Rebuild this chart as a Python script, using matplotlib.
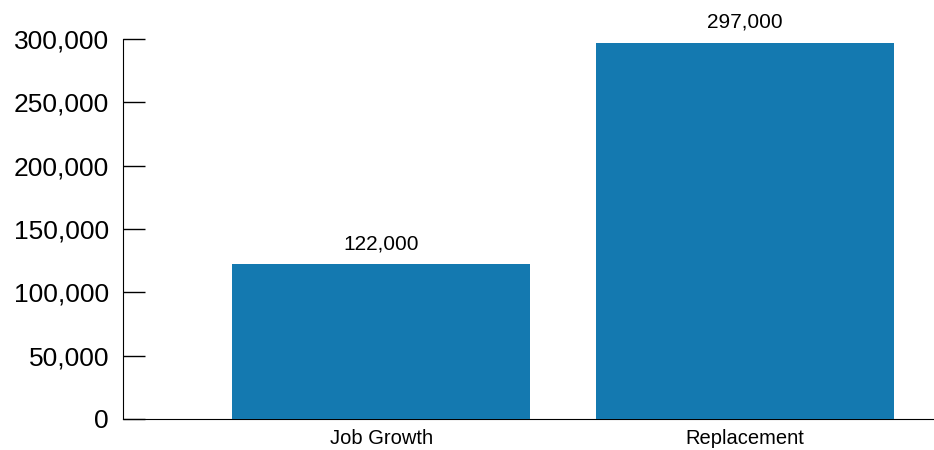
import matplotlib
matplotlib.use("Agg")
import matplotlib.pyplot as plt
from matplotlib.ticker import FuncFormatter

# data
categories = ["Job Growth", "Replacement"]
values = [122000, 297000]
yticks = [0, 50000, 100000, 150000, 200000, 250000, 300000]

plt.rcParams['font.family'] = ['Liberation Sans', 'DejaVu Sans']

fig = plt.figure(figsize=(9.34, 4.5), dpi=100)
ax = fig.add_axes([0.1317, 0.0689, 0.8683, 0.8444])

x = list(range(len(categories)))
bars = ax.bar(x, values, width=0.82, color="#1479b0", zorder=3)

# value labels above bars
for b, v in zip(bars, values):
    ax.annotate(f"{v:,}", (b.get_x() + b.get_width() / 2, v),
                xytext=(0, 8), textcoords="offset points",
                ha="center", va="bottom", fontsize=15, clip_on=False)

ax.set_xlim(-0.709, 1.519)
ax.set_ylim(0, 300000)
ax.set_yticks(yticks)
ax.yaxis.set_major_formatter(FuncFormatter(lambda v, p: f"{int(v):,}"))
ax.set_xticks(x)
ax.set_xticklabels(categories)

ax.spines['top'].set_visible(False)
ax.spines['right'].set_visible(False)
ax.tick_params(axis='y', direction='in', length=16, width=1, pad=10, labelsize=19)
ax.tick_params(axis='x', length=0, pad=7, labelsize=14.5)

fig.savefig("out.png", dpi=100)
